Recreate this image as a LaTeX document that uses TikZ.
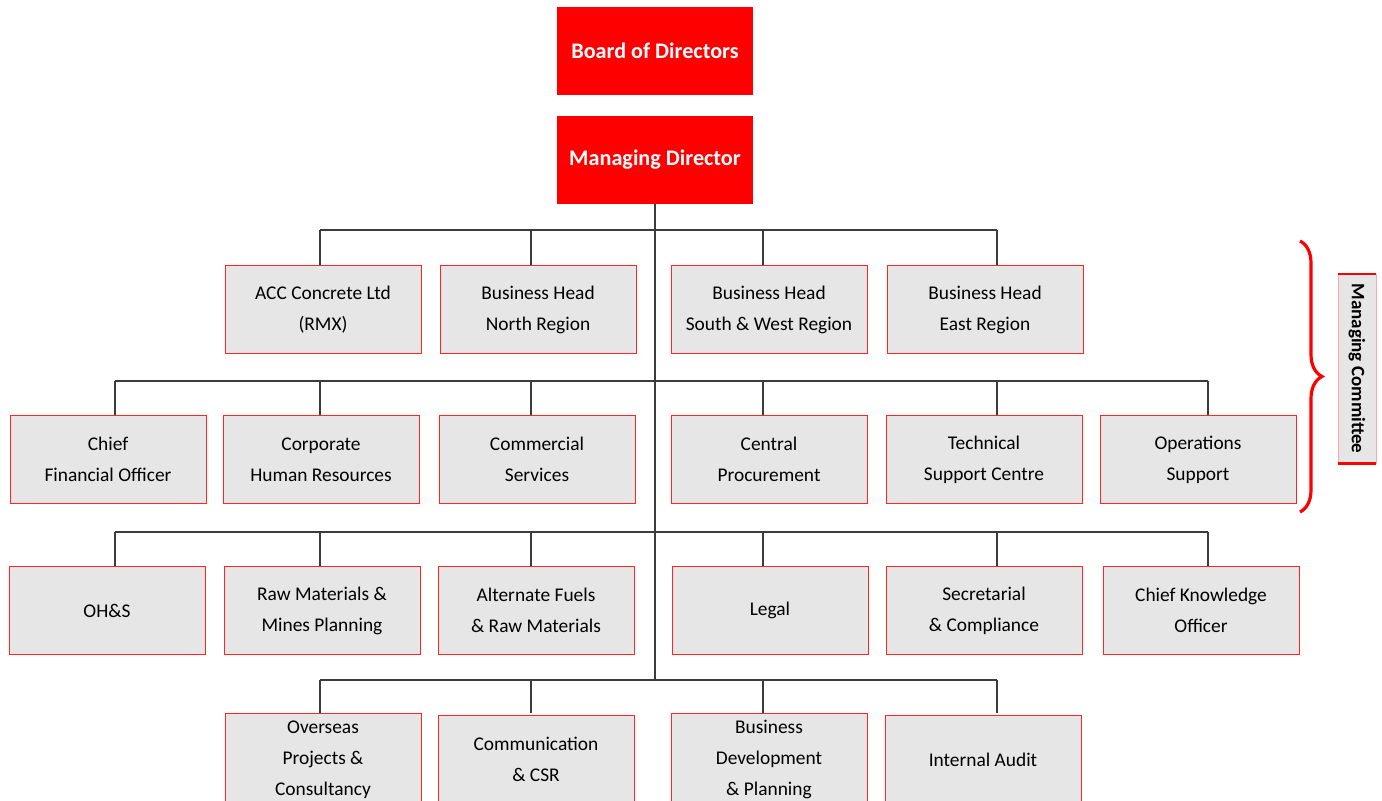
\documentclass[tikz,border=0pt]{standalone}
\usepackage{fontspec}
\setmainfont{Carlito}
\usetikzlibrary{positioning, calc, decorations.pathreplacing}
\definecolor{accred}{RGB}{255,0,0}
\definecolor{boxgray}{RGB}{230,230,230}
\definecolor{linegray}{RGB}{60,60,60}

\begin{document}
\begin{tikzpicture}[
        x=0.5pt, y=-0.5pt,
        head/.style={rectangle, fill=accred, text=white, minimum width=98pt, minimum height=44pt, font=\fontsize{11.1}{13}\selectfont\bfseries},
        unit/.style={rectangle, draw=accred!85, fill=boxgray, line width=0.5pt, minimum width=98pt, minimum height=44pt, align=center, font=\fontsize{9.7}{15.5}\selectfont},
        committee/.style={rectangle, draw=accred!35, fill=boxgray, line width=0.4pt, rotate=-90, minimum width=94.5pt, minimum height=19pt, font=\fontsize{9.5}{11}\selectfont\bfseries},
        link/.style={draw=linegray, line width=0.65pt}
    ]
        \useasboundingbox (0,0) rectangle (1382,800);

        % Top
        \node[head] (board) at (655,51) {Board of Directors};
        \node[head] (md) at (655,160) {Managing Director};

        % Bus lines and columns
        \coordinate (r1) at (654,230);
        \coordinate (r2) at (654,381);
        \coordinate (r3) at (654,532);
        \coordinate (r4) at (654,680);
        \foreach \i/\x in {1/115, 2/320, 3/531, 4/763, 5/997, 6/1208}
            \coordinate (c\i) at (\x,0);

        % Row 1
        \node[unit] (acc) at (323,309.5) {ACC Concrete Ltd\\(RMX)};
        \node[unit] (north) at (538,309.5) {Business Head\\North Region};
        \node[unit] (southwest) at (769,309.5) {Business Head\\South \& West Region};
        \node[unit] (east) at (985,309.5) {Business Head\\East Region};

        % Row 2
        \node[unit] (cfo) at (108,459.5) {Chief\\Financial Officer};
        \node[unit] (hr) at (321,459.5) {Corporate\\Human Resources};
        \node[unit] (commercial) at (537,459.5) {Commercial\\Services};
        \node[unit] (procure) at (769,459.5) {Central\\Procurement};
        \node[unit] (tech) at (984,459.5) {Technical\\Support Centre};
        \node[unit] (ops) at (1198,459.5) {Operations\\Support};

        % Row 3
        \node[unit] (ohs) at (107,610.5) {OH\&S};
        \node[unit] (raw) at (322,610.5) {Raw Materials \&\\Mines Planning};
        \node[unit] (fuels) at (536,610.5) {Alternate Fuels\\\& Raw Materials};
        \node[unit] (legal) at (770,610.5) {Legal};
        \node[unit] (secretarial) at (984,610.5) {Secretarial\\\& Compliance};
        \node[unit] (cko) at (1201,610.5) {Chief Knowledge\\Officer};

        % Row 4
        \node[unit] (overseas) at (323,759.5) {Overseas\\Projects \&\\Consultancy};
        \node[unit] (csr) at (536,759.5) {Communication\\\& CSR};
        \node[unit] (bizdev) at (769,759.5) {Business\\Development\\\& Planning};
        \node[unit] (audit) at (983,759.5) {Internal Audit};

        % Connections
        \draw[link] (md.south) -- (md.south |- r4);
        \draw[link] (c2 |- r1) -- (c5 |- r1);
        \foreach \i in {2,...,5}
            \draw[link] (c\i |- r1) -- (c\i |- acc.north);
        \draw[link] (c1 |- r2) -- (c6 |- r2);
        \foreach \i in {1,...,6}
            \draw[link] (c\i |- r2) -- (c\i |- cfo.north);
        \draw[link] (c1 |- r3) -- (c6 |- r3);
        \foreach \i in {1,...,6}
            \draw[link] (c\i |- r3) -- (c\i |- ohs.north);
        \draw[link] (c2 |- r4) -- (c5 |- r4);
        \foreach \i in {2,...,5}
            \draw[link] (c\i |- r4) -- (c\i |- overseas.north);

        % Managing Committee
        \coordinate (bracetop) at (1300,241);
        \coordinate (bracebottom) at (1300,512);
        \draw[accred, line width=1.6pt, decorate, decoration={brace, amplitude=11pt}] (bracetop) -- (bracebottom);
        \node[committee] (mc) at (1357,368.5) {Managing Committee};
        \draw[accred, line width=1.1pt] (mc.north west) -- (mc.south west);
        \draw[accred, line width=1.1pt] (mc.north east) -- (mc.south east);
    \end{tikzpicture}
\end{document}
